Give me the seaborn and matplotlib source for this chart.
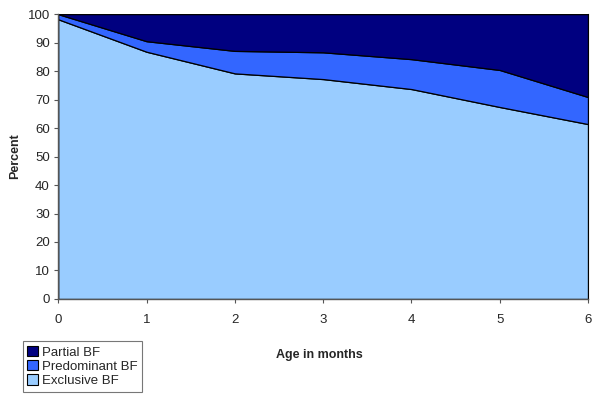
import matplotlib
matplotlib.use("Agg")
import matplotlib.pyplot as plt
import seaborn as sns
import numpy as np
from matplotlib.patches import Patch

months = [0, 1, 2, 3, 4, 5, 6]
exclusive = [98.2, 86.8, 79.2, 77.2, 73.7, 67.4, 61.4]
predominant = [1.8, 3.7, 7.9, 9.4, 10.5, 13.0, 9.5]
partial = [0.0, 9.5, 12.9, 13.4, 15.8, 19.6, 29.1]
series_names = ["Exclusive BF", "Predominant BF", "Partial BF"]
colors = ["#99CCFF", "#3366FF", "#000080"]
yticks = list(range(0, 101, 10))

sns.set_style("white")
plt.rcParams["font.family"] = ["Liberation Sans", "DejaVu Sans"]

fig = plt.figure(figsize=(6.0, 4.04), dpi=100)
ax = fig.add_axes([0.097, 0.26, 0.883, 0.705])

ax.stackplot(months, exclusive, predominant, partial, colors=colors,
             edgecolor="black", linewidth=0.9)
ax.set_xlim(0, 6)
ax.set_ylim(0, 100)
ax.set_xticks(months)
ax.set_yticks(yticks)
ax.tick_params(axis="both", direction="out", length=3, width=0.8,
               color="#555555", labelsize=9.5, bottom=True, left=True, pad=3)
ax.tick_params(axis="x", pad=8)
for s in ["left", "bottom"]:
    ax.spines[s].set_color("#555555")
    ax.spines[s].set_linewidth(1.0)
ax.spines["top"].set_visible(False)
ax.spines["right"].set_visible(True)
ax.spines["right"].set_color("black")

ax.set_ylabel("Percent", fontsize=9, fontweight="bold", labelpad=5)
fig.text(0.533, 0.122, "Age in months", fontsize=9, fontweight="bold",
         ha="center", va="center")

handles = [Patch(facecolor=c, edgecolor="black", linewidth=0.8) for c in colors[::-1]]
leg = fig.legend(handles, series_names[::-1], loc="upper left",
                 bbox_to_anchor=(0.038, 0.155), fontsize=9.5, frameon=True,
                 fancybox=False, edgecolor="#555555", handlelength=0.8,
                 handleheight=0.8, handletextpad=0.3, labelspacing=0.12,
                 borderpad=0.35, borderaxespad=0)
leg.get_frame().set_linewidth(0.8)

fig.savefig("out.png", dpi=100)
